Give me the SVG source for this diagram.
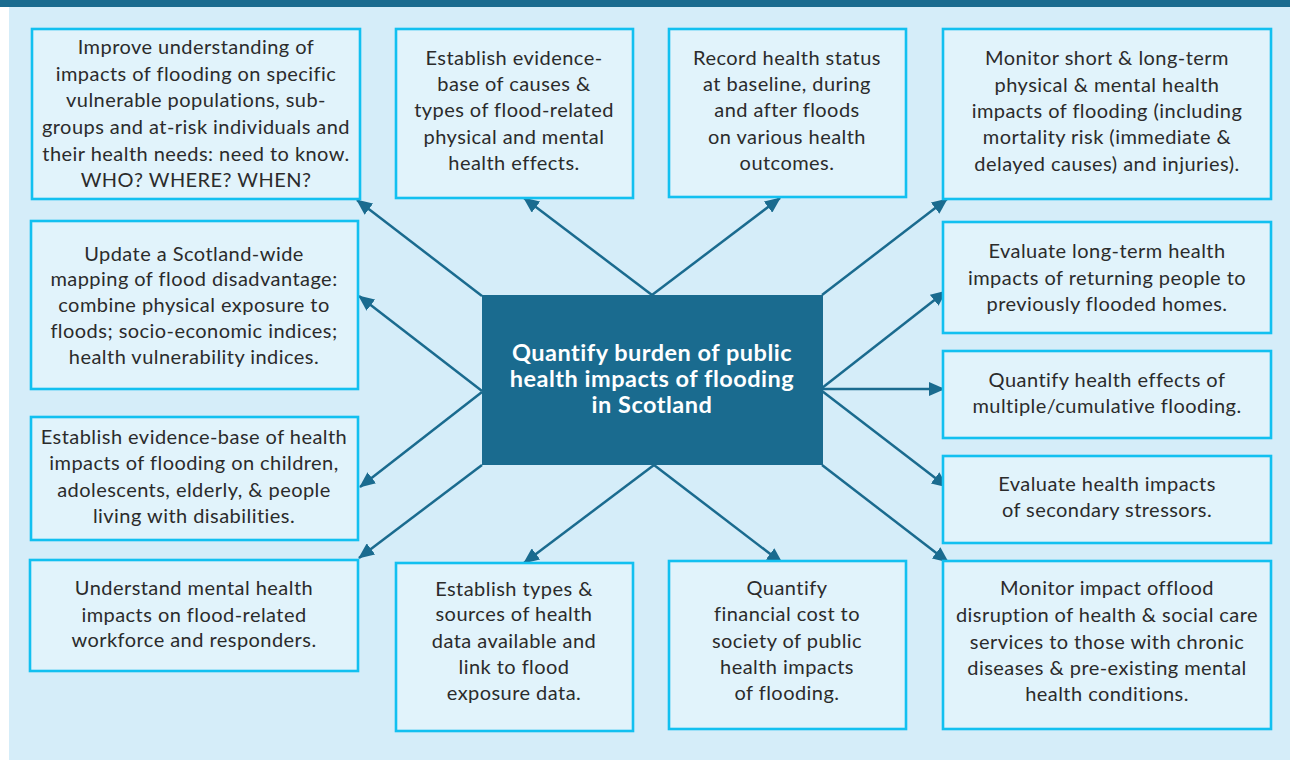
<svg xmlns="http://www.w3.org/2000/svg" width="1290" height="760" viewBox="0 0 1290 760">
<defs>
<style>
.bg{fill:#d5edf9}
.bar{fill:#1a6b8f}
.box{fill:#e1f3fb;stroke:#12c0f0;stroke-width:2.6}
.t{font-family:Lato,"Open Sans",sans-serif;font-size:20px;letter-spacing:0.45px;fill:#2b2b2b;text-anchor:middle}
.ct{font-family:Lato,"Open Sans",sans-serif;font-size:23.5px;letter-spacing:0.5px;font-weight:bold;fill:#ffffff;text-anchor:middle}
.c line{stroke:#1a6b8f;stroke-width:2.5;marker-end:url(#ah)}
</style>
<marker id="ah" markerUnits="userSpaceOnUse" markerWidth="16" markerHeight="14" refX="15" refY="7" orient="auto">
<path d="M0,0 L16,7 L0,14 Z" fill="#1a6b8f"/>
</marker>
</defs>
<rect x="0" y="0" width="1290" height="760" fill="#ffffff"/>
<rect class="bg" x="9" y="7" width="1281" height="753"/>
<rect class="bar" x="0" y="0" width="1290" height="7"/>

<g id="connectors" class="c">
<line x1="482" y1="296" x2="357" y2="200"/>
<line x1="482" y1="391" x2="359" y2="296"/>
<line x1="482" y1="392" x2="360" y2="487"/>
<line x1="482" y1="465" x2="359" y2="558"/>
<line x1="652" y1="295" x2="524" y2="198"/>
<line x1="652" y1="295" x2="780" y2="198"/>
<line x1="822" y1="295" x2="947" y2="199"/>
<line x1="822" y1="388" x2="946" y2="291"/>
<line x1="822" y1="389" x2="944" y2="389"/>
<line x1="822" y1="391" x2="947" y2="487"/>
<line x1="822" y1="465" x2="948" y2="562"/>
<line x1="654" y1="465" x2="524" y2="563"/>
<line x1="654" y1="465" x2="782" y2="563"/>
</g>

<g id="center">
<rect class="bar" x="482" y="295" width="341" height="170"/>
<text class="ct" x="652" y="361">Quantify burden of public</text>
<text class="ct" x="652" y="387">health impacts of flooding</text>
<text class="ct" x="652" y="413">in Scotland</text>
</g>

<g id="n1">
<rect class="box" x="32" y="29" width="328" height="170"/>
<text class="t" x="196" y="54">Improve understanding of</text>
<text class="t" x="196" y="81">impacts of flooding on specific</text>
<text class="t" x="196" y="107">vulnerable populations, sub-</text>
<text class="t" x="196" y="134">groups and at-risk individuals and</text>
<text class="t" x="196" y="161">their health needs: need to know.</text>
<text class="t" x="196" y="187">WHO? WHERE? WHEN?</text>
</g>

<g id="n2">
<rect class="box" x="31" y="221" width="327" height="168"/>
<text class="t" x="194" y="261">Update a Scotland-wide</text>
<text class="t" x="194" y="286">mapping of flood disadvantage:</text>
<text class="t" x="194" y="312">combine physical exposure to</text>
<text class="t" x="194" y="338">floods; socio-economic indices;</text>
<text class="t" x="194" y="364">health vulnerability indices.</text>
</g>

<g id="n3">
<rect class="box" x="31" y="417" width="327" height="123"/>
<text class="t" x="194" y="444">Establish evidence-base of health</text>
<text class="t" x="194" y="470">impacts of flooding on children,</text>
<text class="t" x="194" y="497">adolescents, elderly, &amp; people</text>
<text class="t" x="194" y="523">living with disabilities.</text>
</g>

<g id="n4">
<rect class="box" x="30" y="560" width="328" height="111"/>
<text class="t" x="194" y="595">Understand mental health</text>
<text class="t" x="194" y="622">impacts on flood-related</text>
<text class="t" x="194" y="647">workforce and responders.</text>
</g>

<g id="n5">
<rect class="box" x="396" y="29" width="237" height="169"/>
<text class="t" x="514" y="65">Establish evidence-</text>
<text class="t" x="514" y="91">base of causes &amp;</text>
<text class="t" x="514" y="117">types of flood-related</text>
<text class="t" x="514" y="144">physical and mental</text>
<text class="t" x="514" y="170">health effects.</text>
</g>

<g id="n6">
<rect class="box" x="669" y="29" width="237" height="168"/>
<text class="t" x="787" y="65">Record health status</text>
<text class="t" x="787" y="91">at baseline, during</text>
<text class="t" x="787" y="117">and after floods</text>
<text class="t" x="787" y="144">on various health</text>
<text class="t" x="787" y="170">outcomes.</text>
</g>

<g id="n7">
<rect class="box" x="943" y="29" width="328" height="170"/>
<text class="t" x="1107" y="65">Monitor short &amp; long-term</text>
<text class="t" x="1107" y="92">physical &amp; mental health</text>
<text class="t" x="1107" y="118">impacts of flooding (including</text>
<text class="t" x="1107" y="144">mortality risk (immediate &amp;</text>
<text class="t" x="1107" y="171">delayed causes) and injuries).</text>
</g>

<g id="n8">
<rect class="box" x="943" y="222" width="328" height="111"/>
<text class="t" x="1107" y="258">Evaluate long-term health</text>
<text class="t" x="1107" y="285">impacts of returning people to</text>
<text class="t" x="1107" y="311">previously flooded homes.</text>
</g>

<g id="n9">
<rect class="box" x="943" y="351" width="328" height="87"/>
<text class="t" x="1107" y="387">Quantify health effects of</text>
<text class="t" x="1107" y="413">multiple/cumulative flooding.</text>
</g>

<g id="n10">
<rect class="box" x="943" y="456" width="328" height="87"/>
<text class="t" x="1107" y="491">Evaluate health impacts</text>
<text class="t" x="1107" y="517">of secondary stressors.</text>
</g>

<g id="n11">
<rect class="box" x="943" y="561" width="328" height="168"/>
<text class="t" x="1107" y="595">Monitor impact offlood</text>
<text class="t" x="1107" y="622">disruption of health &amp; social care</text>
<text class="t" x="1107" y="649">services to those with chronic</text>
<text class="t" x="1107" y="675">diseases &amp; pre-existing mental</text>
<text class="t" x="1107" y="701">health conditions.</text>
</g>

<g id="n12">
<rect class="box" x="396" y="563" width="237" height="168"/>
<text class="t" x="514" y="596">Establish types &amp;</text>
<text class="t" x="514" y="621">sources of health</text>
<text class="t" x="514" y="648">data available and</text>
<text class="t" x="514" y="674">link to flood</text>
<text class="t" x="514" y="700">exposure data.</text>
</g>

<g id="n13">
<rect class="box" x="669" y="561" width="237" height="168"/>
<text class="t" x="787" y="595">Quantify</text>
<text class="t" x="787" y="621">financial cost to</text>
<text class="t" x="787" y="648">society of public</text>
<text class="t" x="787" y="674">health impacts</text>
<text class="t" x="787" y="700">of flooding.</text>
</g>
</svg>
